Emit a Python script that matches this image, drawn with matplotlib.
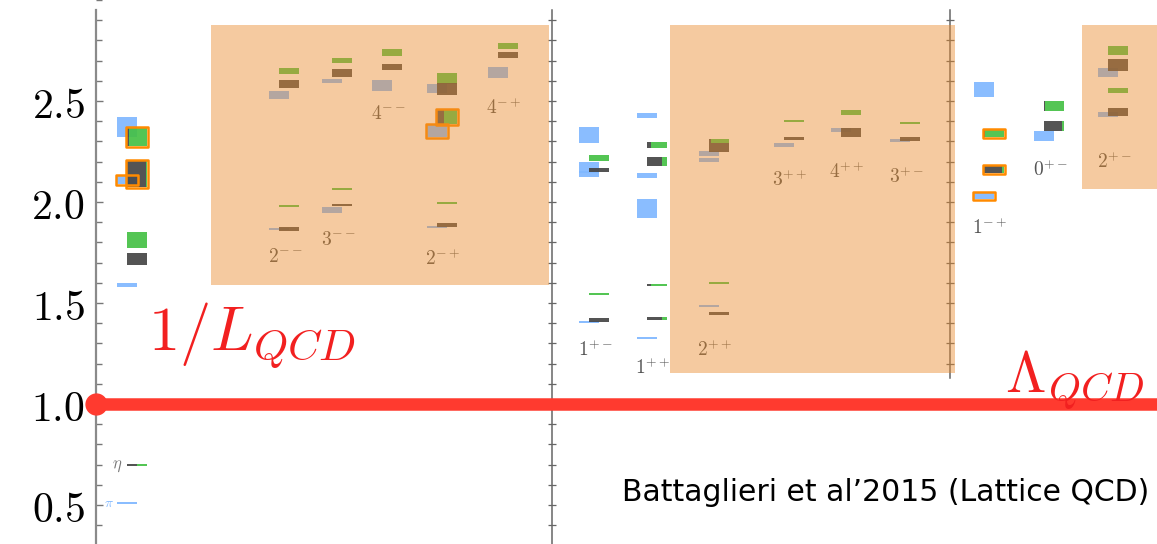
import numpy as np
import matplotlib.pyplot as plt
from matplotlib.patches import Rectangle
from matplotlib.ticker import FixedLocator, MultipleLocator, FuncFormatter

plt.rcParams['mathtext.fontset'] = 'cm'

# J^PC channels, left to right
jpc_labels = [None, r'$2^{--}$', r'$3^{--}$', r'$4^{--}$', r'$2^{-+}$', r'$4^{-+}$',
              r'$1^{+-}$', r'$1^{++}$', r'$2^{++}$', r'$3^{++}$', r'$4^{++}$', r'$3^{+-}$',
              r'$1^{-+}$', r'$0^{+-}$', r'$2^{+-}$']

# isovector states: (channel, mass, half-width, hybrid)
isovector = [
    (0, 2.37, 0.050, False), (0, 2.11, 0.020, True), (0, 1.59, 0.010, False), (0, 0.51, 0.002, False),
    (1, 2.53, 0.020, False), (1, 1.868, 0.004, False),
    (2, 2.60, 0.010, False), (2, 1.96, 0.015, False),
    (3, 2.577, 0.027, False),
    (4, 2.56, 0.022, False), (4, 2.35, 0.030, True), (4, 1.876, 0.004, False),
    (5, 2.64, 0.027, False),
    (6, 2.33, 0.040, False), (6, 2.17, 0.027, False), (6, 2.14, 0.015, False), (6, 1.406, 0.005, False),
    (7, 2.43, 0.012, False), (7, 2.13, 0.012, False), (7, 1.97, 0.047, False), (7, 1.327, 0.004, False),
    (8, 2.24, 0.013, False), (8, 2.21, 0.010, False), (8, 1.485, 0.004, False),
    (9, 2.28, 0.010, False),
    (10, 2.355, 0.010, False),
    (11, 2.305, 0.007, False),
    (12, 2.557, 0.037, False), (12, 2.03, 0.015, True),
    (13, 2.327, 0.025, False),
    (14, 2.64, 0.022, False), (14, 2.433, 0.012, False),
]

# isoscalar states: (channel, mass, half-width, strange fraction, hybrid)
isoscalar = [
    (0, 2.32, 0.045, 0.90, True), (0, 2.14, 0.065, 0.05, True), (0, 1.81, 0.040, 1.0, False),
    (0, 1.72, 0.030, 0.0, False), (0, 0.70, 0.003, 0.5, False),
    (1, 2.65, 0.015, 1.0, False), (1, 2.585, 0.020, 0.0, False), (1, 1.98, 0.004, 1.0, False),
    (1, 1.866, 0.010, 0.0, False),
    (2, 2.70, 0.012, 1.0, False), (2, 2.64, 0.020, 0.0, False), (2, 2.065, 0.004, 1.0, False),
    (2, 1.985, 0.006, 0.0, False),
    (3, 2.74, 0.015, 1.0, False), (3, 2.67, 0.015, 0.0, False),
    (4, 2.61, 0.027, 1.0, False), (4, 2.56, 0.030, 0.0, False), (4, 2.42, 0.035, 0.65, True),
    (4, 1.995, 0.004, 1.0, False), (4, 1.886, 0.010, 0.0, False),
    (5, 2.77, 0.015, 1.0, False), (5, 2.73, 0.015, 0.0, False),
    (6, 2.22, 0.015, 1.0, False), (6, 2.16, 0.010, 0.0, False), (6, 1.545, 0.004, 1.0, False),
    (6, 1.416, 0.008, 0.0, False),
    (7, 2.28, 0.015, 0.82, False), (7, 2.20, 0.022, 0.26, False), (7, 1.59, 0.006, 0.8, False),
    (7, 1.425, 0.007, 0.25, False),
    (8, 2.30, 0.010, 0.9, False), (8, 2.27, 0.020, 0.0, False), (8, 1.60, 0.004, 1.0, False),
    (8, 1.45, 0.007, 0.0, False),
    (9, 2.40, 0.006, 1.0, False), (9, 2.315, 0.007, 0.0, False),
    (10, 2.445, 0.012, 1.0, False), (10, 2.345, 0.022, 0.0, False),
    (11, 2.39, 0.006, 1.0, False), (11, 2.31, 0.010, 0.0, False),
    (12, 2.34, 0.018, 0.95, True), (12, 2.16, 0.018, 0.08, True),
    (13, 2.475, 0.025, 0.93, False), (13, 2.376, 0.025, 0.1, False),
    (14, 2.75, 0.020, 1.0, False), (14, 2.68, 0.030, 0.0, False), (14, 2.552, 0.012, 1.0, False),
    (14, 2.446, 0.020, 0.0, False),
]

yticks = [0.5, 1.0, 1.5, 2.0, 2.5]

# layout (x in pixels of the 1157 px wide canvas)
col_x = [132, 284, 337, 387, 442, 503, 594, 652, 714, 789, 846, 905, 989, 1049, 1113]
label_y = [None, 1.728, 1.812, 2.44, 1.718, 2.465, 1.267, 1.178, 1.267, 2.109, 2.149,
           2.124, 1.871, 2.158, 2.198]
shaded = [(211, 549, 1.589, 2.876), (670, 955, 1.153, 2.876), (1082, 1157, 2.064, 2.876)]

BLUE, BLACK, GREEN, HYB = '#80b8ff', '#454545', '#45c045', '#ff8a00'
W = 20
MINH = 0.009

fig = plt.figure(figsize=(11.57, 5.44), dpi=100)
ax = fig.add_axes([0, 0, 1, 1])
ax.set_xlim(0, 1157)
ax.set_ylim(0.307, 3.0)

# main axis
for s in ['top', 'right', 'bottom']:
    ax.spines[s].set_visible(False)
ax.spines['left'].set_position(('data', 96))
ax.spines['left'].set_bounds(0.307, 2.95)
ax.spines['left'].set_color('#8a8a8a')
ax.spines['left'].set_linewidth(1.6)
ax.set_xticks([])
ax.yaxis.set_major_locator(FixedLocator(yticks))
ax.yaxis.set_minor_locator(MultipleLocator(0.1))
ax.yaxis.set_major_formatter(FuncFormatter(lambda v, p: r'$%.1f$' % v))
ax.tick_params(axis='y', which='both', direction='in', color='#777777', width=1)
ax.tick_params(axis='y', which='major', length=5, labelsize=30, pad=8)
ax.tick_params(axis='y', which='minor', length=4)

# secondary axes between groups
for xa, lo in [(552, 0.307), (950, 1.129)]:
    ax.plot([xa, xa], [lo, 2.95], color='#666666', lw=1.1, zorder=2)
    tk = np.arange(0.4, 2.95, 0.1)
    tk = tk[tk > lo]
    ax.plot(np.full(len(tk), xa), tk, ls='none', marker='_', ms=6, mew=0.9,
            color='#666666', zorder=2)


def box(x0, m, e, w, color):
    h = max(2 * e, MINH)
    ax.add_patch(Rectangle((x0, m - h / 2), w, h, facecolor=color, edgecolor='none',
                           alpha=0.92, zorder=3))


def outline(x0, m, e, w):
    h = max(2 * e, MINH)
    ax.add_patch(Rectangle((x0 - 1, m - h / 2 - 0.004), w + 2, h + 0.008, facecolor='none',
                           edgecolor=HYB, lw=1.8, zorder=3.5, joinstyle='round'))


for c, m, e, hyb in isovector:
    x0 = col_x[c] - 5 - W / 2
    box(x0, m, e, W, BLUE)
    if hyb:
        outline(x0, m, e, W)

for c, m, e, f, hyb in isoscalar:
    x0 = col_x[c] + 5 - W / 2
    wl = W * (1 - f)
    if wl > 0:
        box(x0, m, e, wl, BLACK)
    if f > 0:
        box(x0 + wl, m, e, W * f, GREEN)
    if hyb:
        outline(x0, m, e, W)

for lab, x, y in zip(jpc_labels, col_x, label_y):
    if lab:
        ax.text(x + 1, y, lab, fontsize=14, color='#555555', ha='center', va='center', zorder=4)

ax.text(117, 0.70, r'$\eta$', fontsize=12, color='#777777', ha='center', va='center', zorder=4)
ax.text(109, 0.51, r'$\pi$', fontsize=10, color='#80b8ff', ha='center', va='center', zorder=4)

# orange shading for the exotic / high-spin region
for x0, x1, y0, y1 in shaded:
    ax.add_patch(Rectangle((x0, y0), x1 - x0, y1 - y0, facecolor='#e98b2c', alpha=0.45,
                           edgecolor='none', zorder=5))

# hadronic scale
RED = '#ff3a2f'
ax.plot([96, 1157], [1.0, 1.0], color=RED, lw=9, solid_capstyle='round', zorder=10)
ax.plot([96], [1.0], 'o', ms=15, color=RED, zorder=10)
ax.text(148, 1.267, r'$1/L_{QCD}$', fontsize=45, color='#f22020', ha='left', va='baseline', zorder=10)
ax.text(1005, 1.054, r'$\Lambda_{QCD}$', fontsize=42, color='#f22020', ha='left', va='baseline',
        zorder=10)

ax.text(622, 0.564, 'Battaglieri et al\u20192015 (Lattice QCD)', fontsize=21.5, color='black',
        ha='left', va='center', zorder=10)

fig.savefig('out.png', dpi=100)
